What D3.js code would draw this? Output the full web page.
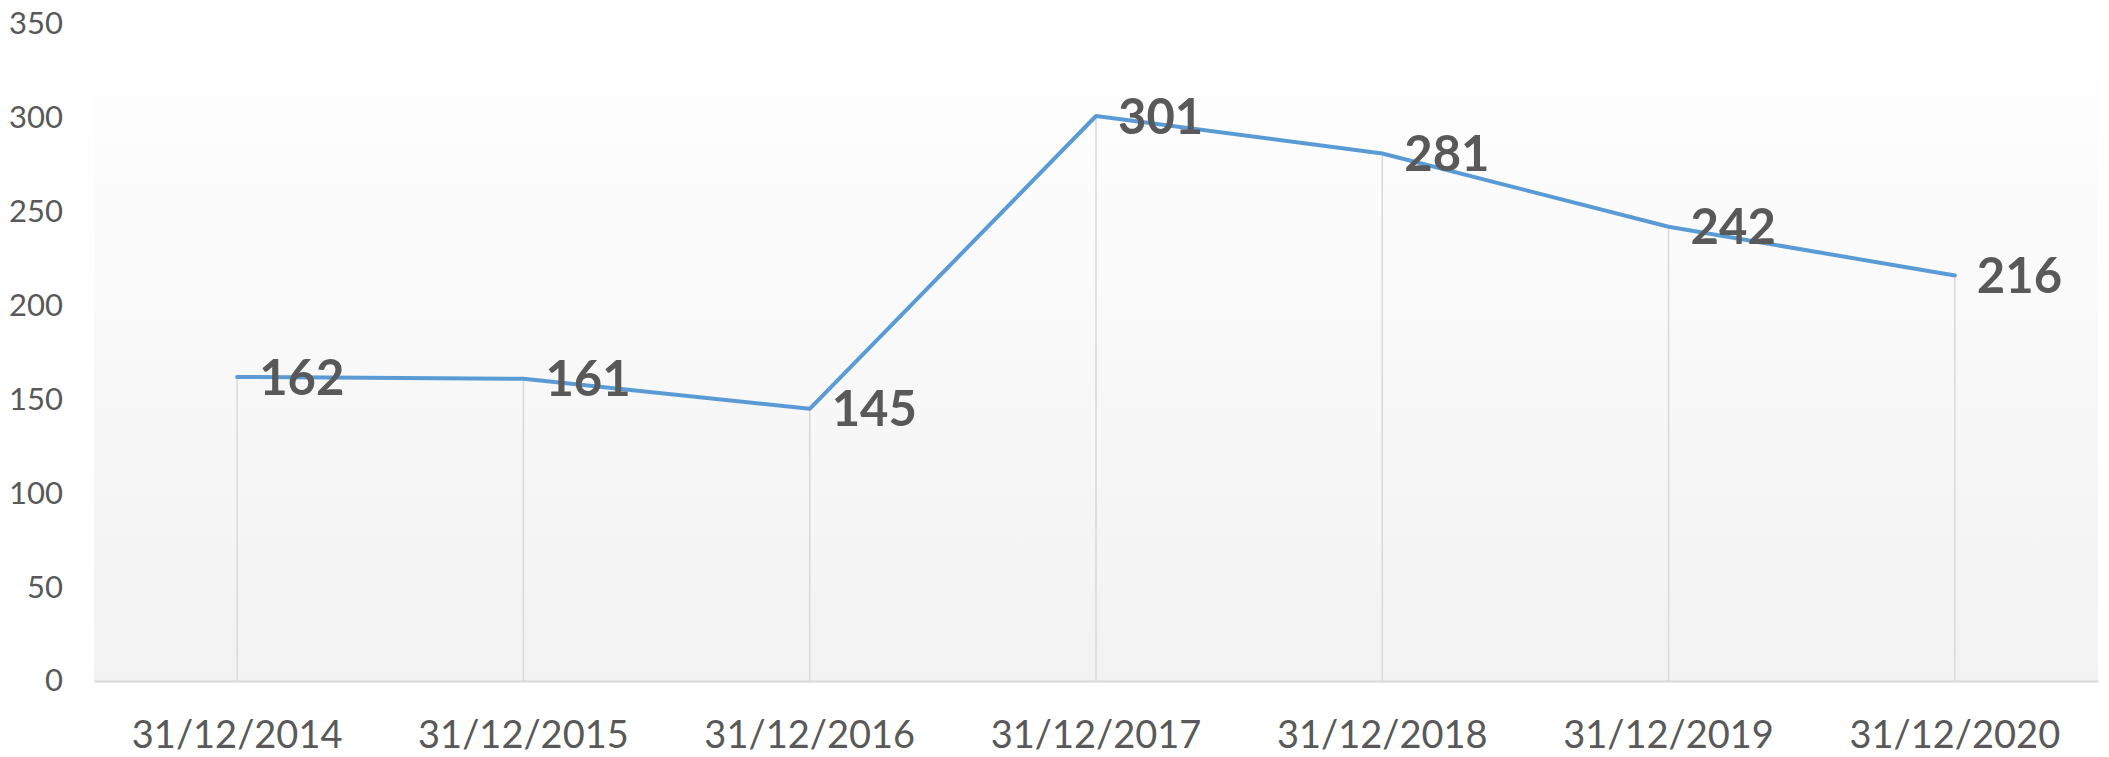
<!DOCTYPE html>
<html>
<head>
<meta charset="utf-8">
<script src="https://cdn.jsdelivr.net/npm/d3@7"></script>
<style>
  body { margin: 0; background: #fff; }
  svg { display: block; }
</style>
</head>
<body>
<div id="chart"></div>
<script>
var categories = ["31/12/2014", "31/12/2015", "31/12/2016", "31/12/2017", "31/12/2018", "31/12/2019", "31/12/2020"];
var values = [162, 161, 145, 301, 281, 242, 216];
var yTicks = [0, 50, 100, 150, 200, 250, 300, 350];

var width = 2109, height = 757;
var margin = {top: 24, right: 11, bottom: 76, left: 94};
var plotW = width - margin.left - margin.right;
var plotH = height - margin.top - margin.bottom;

var svg = d3.select("#chart").append("svg")
    .attr("width", width)
    .attr("height", height);

var grad = svg.append("defs").append("linearGradient")
    .attr("id", "bg")
    .attr("x1", 0).attr("y1", 0).attr("x2", 0).attr("y2", 1);
grad.append("stop").attr("offset", "0%").attr("stop-color", "#ffffff");
grad.append("stop").attr("offset", "100%").attr("stop-color", "#f2f2f2");

var g = svg.append("g")
    .attr("transform", "translate(" + margin.left + "," + margin.top + ")");

var x = d3.scaleBand().domain(categories).range([0, plotW]);
var y = d3.scaleLinear().domain([0, 350]).range([plotH, 0]);
var cx = function (d, i) { return x(categories[i]) + x.bandwidth() / 2; };

// plot background
g.append("rect")
    .attr("width", plotW)
    .attr("height", plotH)
    .style("fill", "url(#bg)");

// drop lines
g.selectAll(".drop")
    .data(values)
    .enter().append("line")
    .attr("class", "drop")
    .attr("x1", cx).attr("x2", cx)
    .attr("y1", function (d) { return y(d); })
    .attr("y2", plotH)
    .style("stroke", "#d9d9d9")
    .style("stroke-width", 1.5);

// y axis labels
var yAxis = g.append("g")
    .call(d3.axisLeft(y).tickValues(yTicks).tickSize(0).tickPadding(31));
yAxis.select(".domain").remove();
yAxis.selectAll("text")
    .style("font-family", "Lato, 'Open Sans', sans-serif")
    .style("font-size", "31px")
    .style("fill", "#595959");

// x axis
var xAxis = g.append("g")
    .attr("transform", "translate(0," + plotH + ")")
    .call(d3.axisBottom(x).tickSize(0).tickPadding(40));
xAxis.select(".domain")
    .style("stroke", "#d9d9d9")
    .style("stroke-width", 2);
xAxis.selectAll("text")
    .style("font-family", "Lato, 'Open Sans', sans-serif")
    .style("font-size", "38px")
    .style("fill", "#595959");

// line
var line = d3.line()
    .x(cx)
    .y(function (d) { return y(d); });

g.append("path")
    .datum(values)
    .attr("d", line)
    .style("fill", "none")
    .style("stroke", "#5b9bd5")
    .style("stroke-width", 4)
    .style("stroke-linejoin", "round")
    .style("stroke-linecap", "round");

// data labels
g.selectAll(".lbl")
    .data(values)
    .enter().append("text")
    .attr("class", "lbl")
    .attr("x", function (d, i) { return cx(d, i) + 22; })
    .attr("y", function (d) { return y(d); })
    .attr("dy", ".36em")
    .text(function (d) { return d; })
    .style("font-family", "Lato, 'Open Sans', sans-serif")
    .style("font-weight", "bold")
    .style("font-size", "49px")
    .style("fill", "#595959");
</script>
</body>
</html>
